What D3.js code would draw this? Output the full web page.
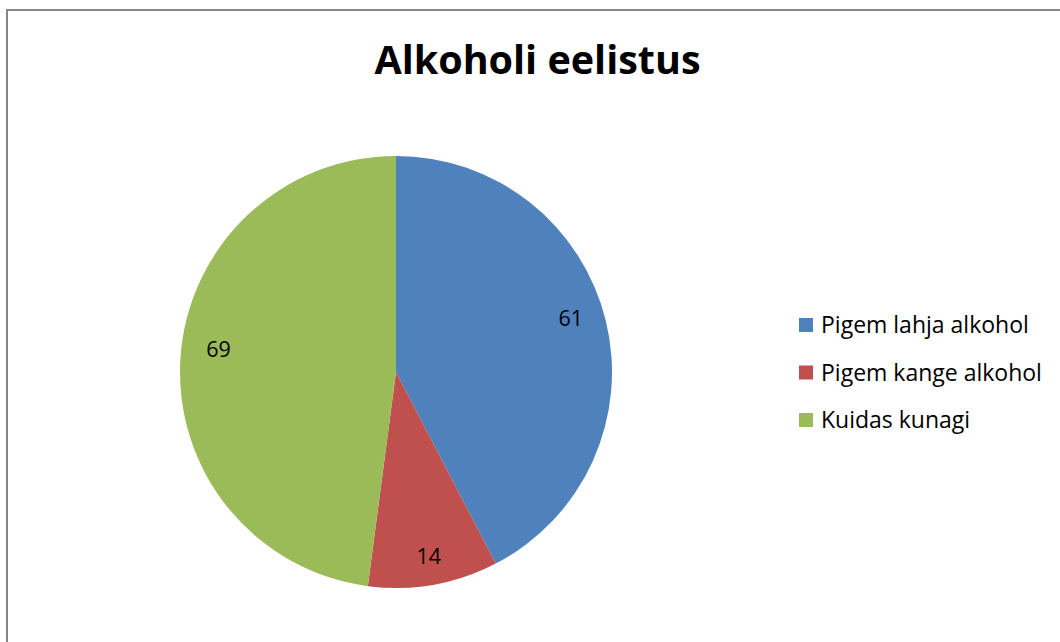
<!DOCTYPE html>
<html><head><meta charset="utf-8">
<script src="https://cdn.jsdelivr.net/npm/d3@7"></script>
<style>html,body{margin:0;padding:0;background:#fff;overflow:hidden}</style>
</head><body>
<svg id="c" width="1060" height="642"></svg>
<script>
const title = "Alkoholi eelistus";
const categories = ["Pigem lahja alkohol", "Pigem kange alkohol", "Kuidas kunagi"];
const values = [61, 14, 69];
const colors = ["#4F81BD", "#C0504D", "#9BBB59"];

const svg = d3.select("#c");
const font = "'Open Sans', sans-serif";

svg.append("rect").attr("x", 7).attr("y", 10).attr("width", 1100).attr("height", 700)
  .attr("fill", "#fff").attr("stroke", "#868686").attr("stroke-width", 2);

svg.append("text").attr("x", 537.5).attr("y", 74).attr("text-anchor", "middle")
  .attr("font-family", font).attr("font-weight", "bold").attr("font-size", 39.5).text(title);

const cx = 396, cy = 372, r = 216;
const pie = d3.pie().sort(null).value(d => d);
const arcs = pie(values);
const arc = d3.arc().innerRadius(0).outerRadius(r);
const g = svg.append("g").attr("transform", `translate(${cx},${cy})`);
g.selectAll("path").data(arcs).join("path").attr("d", arc).attr("fill", (d, i) => colors[i]);
function labelPos(d) {
  const a = (d.startAngle + d.endAngle) / 2;
  const s = Math.sin(a), c = Math.cos(a);
  const rr = r * 0.82 + 12 * Math.abs(c);
  return [rr * s, -rr * c - 12 * Math.abs(s)];
}
g.selectAll("text").data(arcs).join("text")
  .attr("transform", d => `translate(${labelPos(d)})`)
  .attr("text-anchor", "middle").attr("dominant-baseline", "central")
  .attr("font-family", font).attr("font-size", 21.5).attr("fill", "#000")
  .text(d => d.data);

const yScale = d3.scalePoint().domain(categories).range([324, 419]);
const lg = svg.append("g");
const items = lg.selectAll("g").data(categories).join("g")
  .attr("transform", d => `translate(799,${yScale(d)})`);
items.append("rect").attr("x", 0).attr("y", -6).attr("width", 14).attr("height", 14)
  .attr("fill", (d, i) => colors[i]);
items.append("text").attr("x", 22).attr("y", 0).attr("dominant-baseline", "central")
  .attr("font-family", font).attr("font-size", 23).attr("fill", "#000").text(d => d);
</script>
</body></html>
